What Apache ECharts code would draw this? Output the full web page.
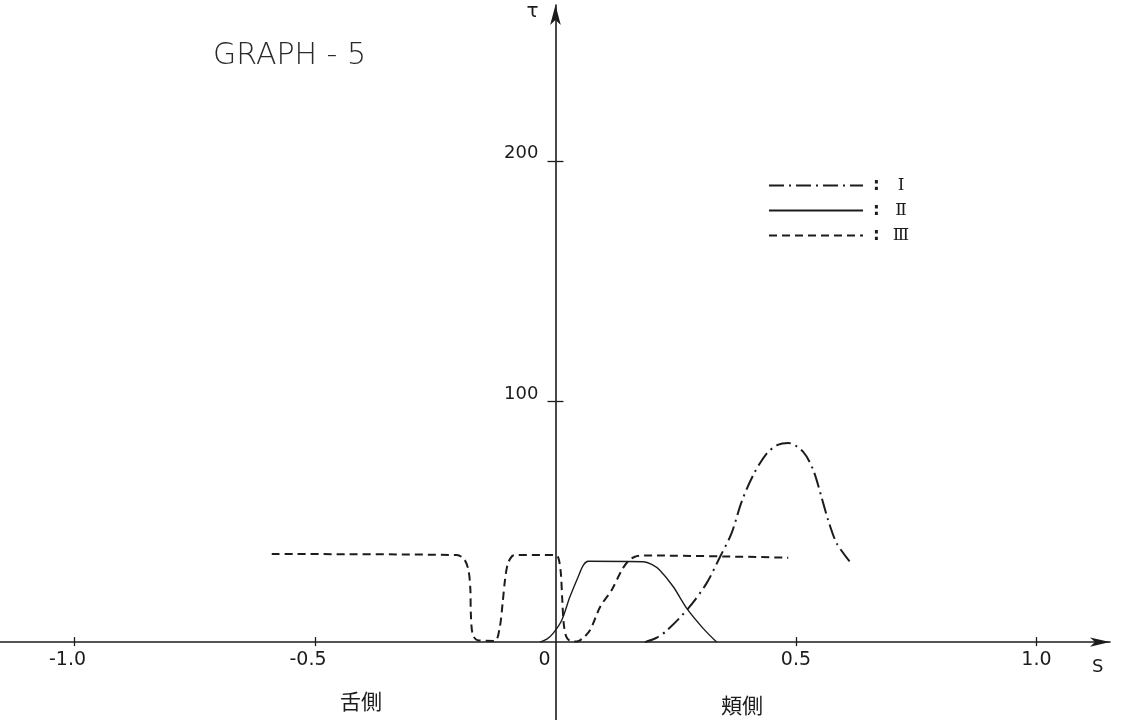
<!DOCTYPE html>
<html>
<head>
<meta charset="utf-8">
<script src="https://cdn.jsdelivr.net/npm/echarts@6/dist/echarts.min.js"></script>
<style>
html, body { margin: 0; padding: 0; background: #fff; }
#main { width: 1122px; height: 720px; }
</style>
</head>
<body>
<div id="main"></div>
<script>
// tick positions / labels
var xTicks = [-1.0, -0.5, 0.5, 1.0];
var xLabels = [-1.0, -0.5, 0, 0.5, 1.0];
var yTicks = [100, 200];
var seriesNames = ['Ⅰ', 'Ⅱ', 'Ⅲ'];

// curve I  (dash-dot)  [s, tau]
var curveI = [
    [0.186, 0], [0.210, 1.8], [0.231, 4.7], [0.276, 14.0], [0.314, 24.4], [0.342, 35.4],
    [0.366, 45.2], [0.387, 58.3], [0.411, 69.4], [0.439, 78.4], [0.462, 82.0], [0.484, 82.8],
    [0.515, 79.1], [0.536, 71.5], [0.553, 60.4], [0.567, 50.7], [0.585, 41.0], [0.616, 32.4]
];
// curve II (solid)
var curveII = [
    [-0.032, 0], [-0.018, 1.2], [-0.005, 3.6], [0.013, 9.1], [0.030, 18.8], [0.047, 27.1],
    [0.058, 32.0], [0.068, 33.6], [0.183, 33.4], [0.200, 32.3], [0.217, 29.9], [0.245, 23.0],
    [0.273, 14.0], [0.307, 5.7], [0.335, 0]
];
// curve III (dashed)
var curveIII = [
    [-0.590, 36.6], [-0.205, 36.2], [-0.190, 34.5], [-0.181, 30.0], [-0.177, 22.0], [-0.176, 11.9],
    [-0.172, 3.0], [-0.162, 0.8], [-0.126, 0.5], [-0.116, 6.0], [-0.110, 16.0], [-0.105, 25.8],
    [-0.099, 32.7], [-0.090, 35.8], [-0.084, 36.2], [-0.001, 36.2], [0.006, 35.0], [0.011, 29.0],
    [0.014, 18.0], [0.017, 8.0], [0.022, 2.5], [0.030, 0.5], [0.044, 0.2], [0.058, 1.8],
    [0.072, 5.0], [0.093, 14.7], [0.117, 21.7], [0.138, 30.0], [0.152, 33.8], [0.165, 35.5],
    [0.183, 36.0], [0.484, 35.1]
];

var chart = echarts.init(document.getElementById('main'));
var ink = '#1c1c1c';
var numFont = 'DejaVu Sans';

// grid box (px) and value ranges, chosen so that s=0 / tau=0 fall on the drawn axes
var gridL = 0, gridR = 12, gridT = 5, gridB = 0;
var xMin = -1.155, xMax = 1.153;
var yMin = -32.4, yMax = 264.9;
var plotW = 1122 - gridL - gridR, plotH = 720 - gridT - gridB;
var zeroX = gridL + plotW * (0 - xMin) / (xMax - xMin);
var zeroY = gridT + plotH * (yMax - 0) / (yMax - yMin);

option = {
    backgroundColor: '#fff',
    animation: false,
    title: {
        text: 'GRAPH - 5',
        left: 208,
        top: 36,
        textStyle: { color: '#2a2a2a', fontFamily: numFont, fontWeight: 300, fontSize: 30 }
    },
    grid: { left: gridL, right: gridR, top: gridT, bottom: gridB, containLabel: false, outerBoundsMode: 'none' },
    legend: {
        orient: 'vertical',
        left: 763,
        top: 172,
        itemWidth: 94,
        itemHeight: 16,
        itemGap: 8,
        selectedMode: false,
        data: seriesNames,
        itemStyle: { opacity: 0 },
        formatter: function (name) {
            return '{c|:}{n|' + name + '}';
        },
        textStyle: {
            color: ink,
            fontSize: 16,
            rich: {
                c: { fontFamily: numFont, fontSize: 17, fontWeight: 'bold', width: 18, padding: [0, 0, 0, 5], color: ink },
                n: { fontFamily: 'DejaVu Serif', fontSize: 17, width: 20, align: 'center', color: ink }
            }
        }
    },
    xAxis: [
        {
            type: 'value', min: xMin, max: xMax, position: 'bottom',
            offset: -(720 - gridB - zeroY),
            name: 'S', nameLocation: 'end', nameGap: -18,
            nameTextStyle: { color: ink, fontFamily: numFont, fontSize: 18, align: 'left', verticalAlign: 'top', padding: [16, 0, 0, 0] },
            axisLine: { onZero: false, symbol: ['none', 'arrow'], symbolSize: [7, 20], lineStyle: { color: ink, width: 1.6 } },
            axisTick: { show: true, customValues: xTicks, length: 4, lineStyle: { color: ink, width: 1.3 } },
            axisLabel: {
                customValues: xLabels, margin: 8, color: ink, fontFamily: numFont, fontSize: 19,
                formatter: function (v) {
                    if (v < 0) return v.toFixed(1) + '{s|}';
                    if (v === 0) return '0{z|}';
                    return v.toFixed(1);
                },
                rich: { s: { width: 14 }, z: { width: 22 } }
            },
            splitLine: { show: false }
        },
        {
            // second copy only for the upper half of the crossing ticks
            type: 'value', min: xMin, max: xMax, position: 'top',
            offset: -(zeroY - gridT),
            axisLine: { show: false, onZero: false },
            axisTick: { show: true, customValues: xTicks, length: 5, lineStyle: { color: ink, width: 1.3 } },
            axisLabel: { show: false },
            splitLine: { show: false }
        }
    ],
    yAxis: [
        {
            type: 'value', min: yMin, max: yMax, position: 'left',
            offset: -(zeroX - gridL),
            name: 'τ', nameLocation: 'end', nameGap: -17,
            nameTextStyle: { color: ink, fontFamily: numFont, fontSize: 20, align: 'right', verticalAlign: 'bottom', padding: [0, 17, 0, 0] },
            axisLine: { onZero: false, symbol: ['none', 'arrow'], symbolSize: [8, 20], lineStyle: { color: ink, width: 1.6 } },
            axisTick: { show: true, customValues: yTicks, length: 8, lineStyle: { color: ink, width: 1.3 } },
            axisLabel: { customValues: yTicks, margin: 17, color: ink, fontFamily: numFont, fontSize: 18, verticalAlign: 'bottom', lineHeight: 15 },
            splitLine: { show: false }
        },
        {
            type: 'value', min: yMin, max: yMax, position: 'right',
            offset: -(1122 - gridR - zeroX),
            axisLine: { show: false, onZero: false },
            axisTick: { show: true, customValues: yTicks, length: 8, lineStyle: { color: ink, width: 1.3 } },
            axisLabel: { show: false },
            splitLine: { show: false }
        }
    ],
    graphic: [
        { type: 'text', left: 340, top: 691, style: { text: '舌側', fill: ink, font: '21px "Noto Sans CJK JP"' } },
        { type: 'text', left: 721, top: 695, style: { text: '頬側', fill: ink, font: '21px "Noto Sans CJK JP"' } }
    ],
    series: [
        {
            name: seriesNames[0], type: 'line', data: curveI,
            symbol: 'none', smooth: 0.3, silent: true,
            lineStyle: { color: ink, width: 2, type: [15, 5, 2, 5] }
        },
        {
            name: seriesNames[1], type: 'line', data: curveII,
            symbol: 'none', smooth: 0.3, silent: true,
            lineStyle: { color: ink, width: 1.4, type: 'solid' }
        },
        {
            name: seriesNames[2], type: 'line', data: curveIII,
            symbol: 'none', smooth: 0.3, silent: true,
            lineStyle: { color: ink, width: 2, type: [8, 5] }
        }
    ]
};

chart.setOption(option);
</script>
</body>
</html>
